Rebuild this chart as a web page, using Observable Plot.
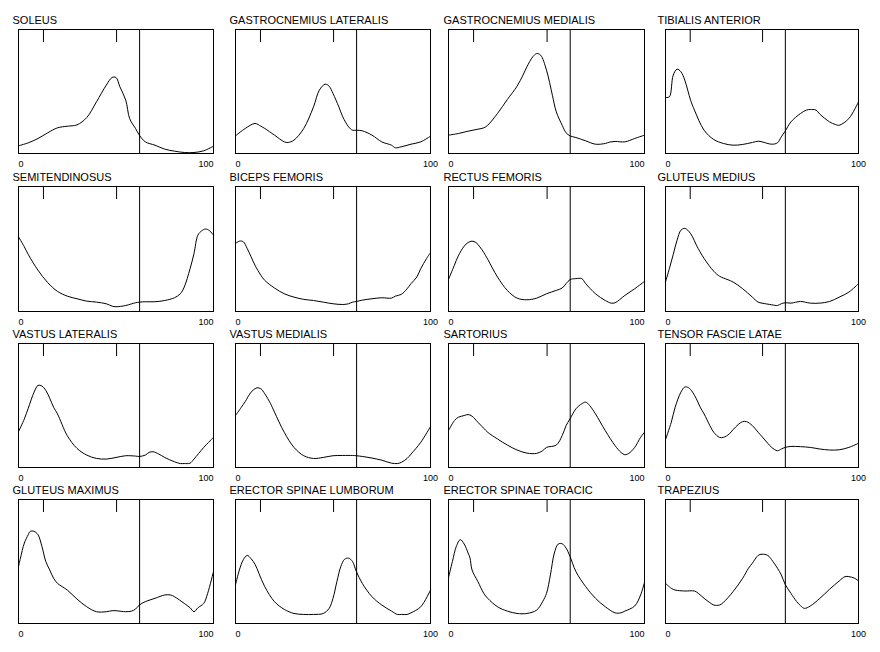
<!DOCTYPE html>
<html><head><meta charset="utf-8">
<script src="https://cdn.jsdelivr.net/npm/d3@7"></script>
<script src="https://cdn.jsdelivr.net/npm/@observablehq/plot@0.6"></script>
<style>
body{margin:0;background:#fff;}
#chart{position:relative;width:880px;height:652px;background:#fff;overflow:hidden;}
</style></head><body><div id="chart"></div>
<script>
const muscles = ["SOLEUS","GASTROCNEMIUS LATERALIS","GASTROCNEMIUS MEDIALIS","TIBIALIS ANTERIOR",
  "SEMITENDINOSUS","BICEPS FEMORIS","RECTUS FEMORIS","GLUTEUS MEDIUS",
  "VASTUS LATERALIS","VASTUS MEDIALIS","SARTORIUS","TENSOR FASCIE LATAE",
  "GLUTEUS MAXIMUS","ERECTOR SPINAE LUMBORUM","ERECTOR SPINAE TORACIC","TRAPEZIUS"];

const soleus = [[0,6.2],[5,8.6],[10,12.1],[15,16.7],[20,20.7],[25,22],[30,23.1],[35,29],[40,41.7],[45,55.1],[48,61.3],[50,61.3],[52,53.8],[55,43],[57,28.2],[60,20.2],[62,14.8],[65,9.4],[70,6.7],[75,3.5],[80,1.9],[85,0.8],[90,0.8],[95,2.2],[100,5.9]];
const gastrocLat = [[0,14.2],[5,20.2],[10,24.2],[13,22],[15,20.2],[20,14.8],[25,9.4],[27,8.9],[30,10.8],[35,20.2],[40,37.6],[43,51.1],[46,55.9],[48,54.3],[50,48.4],[53,37.6],[55,29.6],[58,21.5],[60,18.8],[62,18.8],[65,18.3],[70,14.8],[75,9.4],[80,6.7],[82,4.6],[85,5.4],[90,7.5],[95,9.4],[100,14]];
const gastrocMed = [[0,14.8],[5,16.1],[10,18],[15,19.6],[18,20.7],[20,22.8],[25,32.3],[30,43.5],[35,54.3],[38,63.2],[40,69.9],[43,78],[45,80.6],[47,79.3],[50,67.2],[53,47],[55,33.6],[58,22.8],[60,16.7],[62,14.2],[65,12.9],[70,10.2],[75,7.5],[80,8.1],[82,9.1],[85,9.7],[90,9.4],[95,12.1],[100,14.8]];
const tibialisAnt = [[0,45.2],[2,45.7],[4,63.2],[6,68],[8,65.9],[10,59.1],[13,43],[15,35],[20,18.8],[25,11.3],[30,8.1],[35,6.7],[40,7.3],[45,8.9],[48,9.9],[50,9.4],[55,7.5],[58,8.6],[60,13.4],[62,18],[65,25.5],[70,32.3],[73,35],[75,35.5],[78,35],[80,31.7],[85,25.5],[88,23.4],[90,22.8],[95,28.2],[100,41.7]];
const semitend = [[0,59.8],[3,51.7],[5,45.6],[10,33],[15,23.1],[20,16.1],[25,12.3],[30,10.2],[35,8.3],[40,7.5],[45,6.2],[48,4.3],[50,3.8],[55,4.8],[60,7],[62,7.5],[65,7.8],[70,7.8],[75,8.8],[80,11],[83,14.2],[85,19.6],[88,34.3],[90,46.4],[92,61.1],[94,64.6],[96,66],[98,64.6],[100,61.1]];
const bicepsFem = [[0,54.4],[2,56.3],[4,55.8],[6,50.4],[8,43.7],[10,37],[13,29],[15,24.9],[20,18.8],[25,14.2],[30,11.5],[35,9.7],[40,8.8],[45,7.5],[50,6.2],[55,5.6],[58,6.2],[60,7.5],[62,8],[65,9.1],[70,10.2],[75,11],[80,10.7],[82,12.3],[85,13.7],[88,18.2],[90,22.3],[93,27.6],[95,34.3],[98,42.4],[100,47.2]];
const rectusFem = [[0,25.7],[3,37],[5,44.5],[8,52.3],[10,55.2],[12,56.3],[14,55.2],[16,51.7],[18,47.2],[20,41.8],[25,27.6],[30,16.9],[35,10.7],[40,9.4],[45,10.7],[50,14.2],[55,16.9],[58,18.8],[60,22.3],[62,25.5],[65,26.3],[68,26.3],[70,22.3],[75,14.2],[80,8.8],[83,6.7],[85,7],[90,12.9],[95,18.2],[100,24.1]];
const gluteusMed = [[0,23.6],[2,34.3],[4,45.6],[6,57.1],[8,65.1],[10,66.5],[12,64.3],[14,59.8],[16,53.1],[20,42.4],[25,32.2],[28,28.2],[30,26.8],[35,23.6],[40,18.2],[45,11.5],[48,7.5],[50,6.7],[55,5.4],[58,4.8],[60,6.2],[62,7],[65,6.7],[70,8],[75,6.7],[80,6.7],[85,8],[90,11.5],[95,15.5],[100,22.3]];
const vastusLat = [[0,28.9],[3,39.2],[5,47.8],[8,60.8],[10,66.2],[12,65.7],[14,62.2],[16,55.9],[18,48.6],[20,43.2],[25,25.7],[30,15.4],[35,10],[40,7.3],[45,6.8],[50,8.1],[55,9.5],[60,9.2],[62,8.9],[65,10],[67,12.2],[69,12.7],[72,10.8],[75,8.1],[80,4.6],[83,3.2],[85,3.2],[88,3.5],[90,6.8],[95,16.2],[100,24.3]];
const vastusMed = [[0,41.9],[3,48.6],[5,53.2],[8,60.8],[10,63.5],[11,64.3],[13,63.5],[15,59.5],[18,51.4],[20,44.6],[25,28.4],[30,16.2],[35,9.5],[40,7.3],[45,8.1],[50,9.5],[55,9.7],[60,9.7],[62,9.5],[65,8.9],[70,7.6],[75,5.9],[80,3.5],[83,3.2],[85,4.1],[88,7.3],[90,10.8],[95,20.3],[100,33]];
const sartorius = [[0,29.7],[3,37.8],[5,40.5],[8,41.9],[10,42.7],[12,41.4],[15,36.5],[18,31.6],[20,28.4],[25,23],[30,18.1],[35,14.1],[40,11.6],[45,11.4],[48,13.5],[50,16.2],[55,18.1],[58,25.7],[60,33.8],[62,39.2],[65,47.3],[68,51.4],[70,52.7],[72,50],[75,43.2],[80,29.7],[85,17.6],[88,12.2],[90,10.3],[92,11.4],[95,16.2],[98,24.3],[100,28.4]];
const tensorFL = [[0,22.4],[3,36.5],[5,48.6],[8,60.8],[10,64.9],[12,64.3],[14,60.8],[16,55.4],[18,48.6],[20,43.2],[23,33.8],[25,28.4],[28,24.3],[30,24.3],[33,27],[35,30.5],[38,35.1],[40,37],[42,37],[45,33.8],[48,28.4],[50,24.9],[53,19.5],[55,16.2],[58,13.5],[60,14.9],[62,16.2],[65,17],[70,16.8],[75,16.2],[80,14.9],[85,14.1],[90,14.3],[95,16.2],[100,19.5]];
const gluteusMax = [[0,45.9],[1,52.7],[3,64.9],[5,71.6],[6,74.3],[8,74.3],[10,71.6],[12,62.2],[14,50],[16,43.2],[18,36.5],[20,32.4],[25,27],[30,19.7],[35,13.5],[40,9.5],[45,9.5],[48,10.3],[50,10.3],[55,9.5],[58,10],[60,11.6],[62,14.9],[65,17.6],[70,20.3],[75,23],[78,23],[80,21.6],[85,16.2],[88,12.7],[90,9.5],[92,12.7],[95,16.2],[97,24.3],[100,41.9]];
const erectorLumb = [[0,31.1],[2,43.2],[4,51.4],[6,54.9],[8,52.2],[10,47.8],[12,40.5],[15,29.7],[20,17.6],[25,11.4],[30,8.1],[35,7.3],[40,7.3],[45,8.1],[48,12.2],[50,20.3],[52,33.8],[54,45.9],[56,51.9],[58,52.7],[60,50],[62,41.9],[65,32.4],[70,21.6],[75,14.9],[80,10],[83,7.3],[85,7.3],[88,7.3],[90,8.6],[95,13.5],[100,27]];
const erectorTor = [[0,37],[2,50],[4,62.2],[6,67.6],[8,64.1],[10,56.8],[11,52.7],[12,43.2],[15,33.8],[18,24.3],[20,20.3],[25,13.5],[30,10],[35,8.1],[40,8.1],[45,10.8],[48,17.6],[50,24.3],[52,39.2],[54,56.8],[56,64.1],[58,64.3],[60,60.8],[62,54.1],[65,41.9],[70,29.7],[75,20.3],[80,13.5],[85,8.6],[88,8.6],[90,10],[95,14.1],[98,23],[100,33.2]];
const trapezius = [[0,32.4],[3,28.4],[5,27],[10,26.2],[15,26.2],[17,24.3],[20,20.3],[23,16.8],[25,14.9],[28,14.9],[30,17],[35,25.7],[40,36.5],[43,44.6],[45,48.6],[48,54.9],[50,55.9],[53,54.9],[55,51.4],[58,44.6],[60,39.2],[62,31.6],[65,24.3],[68,17.6],[70,14.3],[72,12.2],[75,14.1],[80,20.3],[85,27.6],[90,34.3],[93,37.8],[95,37.8],[98,36.5],[100,34.3]];

const series = [soleus,gastrocLat,gastrocMed,tibialisAnt,semitend,bicepsFem,rectusFem,gluteusMed,
  vastusLat,vastusMed,sartorius,tensorFL,gluteusMax,erectorLumb,erectorTor,trapezius];

const xTickLabels = ["0","100"];
const eventTicks = [12.8, 50.3];   // gait-event markers (% of cycle)
const toeOff = [62.1];            // stance/swing boundary (% of cycle)

// layout
const colLeft = [18,235,448,665], colRight = [213,430,644,858];
const rowTop = [29,186,343,499], rowBottom = [153,311,467,623];
const titleDx = [-6,-6,-5,-8];
const mL = 14, mR = 14, mT = 28, mB = 22;
const chart = document.getElementById("chart");

muscles.forEach((name, i) => {
  const r = Math.floor(i / 4), c = i % 4;
  const w = colRight[c] - colLeft[c], h = rowBottom[r] - rowTop[r];
  const data = series[i].map(([x, y]) => ({x, y}));
  const tickLen = 13 / h * 100;
  const svg = Plot.plot({
    width: w + mL + mR, height: h + mT + mB,
    marginLeft: mL, marginRight: mR, marginTop: mT, marginBottom: mB,
    x: {domain: [0, 100], axis: null},
    y: {domain: [0, 100], axis: null},
    style: {fontFamily: "'Liberation Sans', Arial, sans-serif", fontSize: "11px", background: "transparent", overflow: "visible", color: "black"},
    marks: [
      Plot.frame({stroke: "black"}),
      Plot.ruleX(toeOff, {stroke: "black"}),
      Plot.ruleX(eventTicks, {y1: 100, y2: 100 - tickLen, stroke: "black"}),
      Plot.line(data, {x: "x", y: "y", curve: "catmull-rom", stroke: "black", strokeWidth: 1}),
      Plot.text([name], {frameAnchor: "top-left", dx: titleDx[c], dy: -6, textAnchor: "start", lineAnchor: "bottom", fontSize: 11, fill: "black"}),
      Plot.text([xTickLabels[0]], {x: 0, y: 0, dy: 13.5, textAnchor: "start", lineAnchor: "bottom", fontSize: 9, fill: "black"}),
      Plot.text([xTickLabels[1]], {x: 100, y: 0, dy: 13.5, textAnchor: c % 2 ? "middle" : "end", lineAnchor: "bottom", fontSize: 9, fill: "black"})
    ]
  });
  svg.style.position = "absolute";
  svg.style.left = (colLeft[c] - mL) + "px";
  svg.style.top = (rowTop[r] - mT) + "px";
  chart.appendChild(svg);
});
</script></body></html>
